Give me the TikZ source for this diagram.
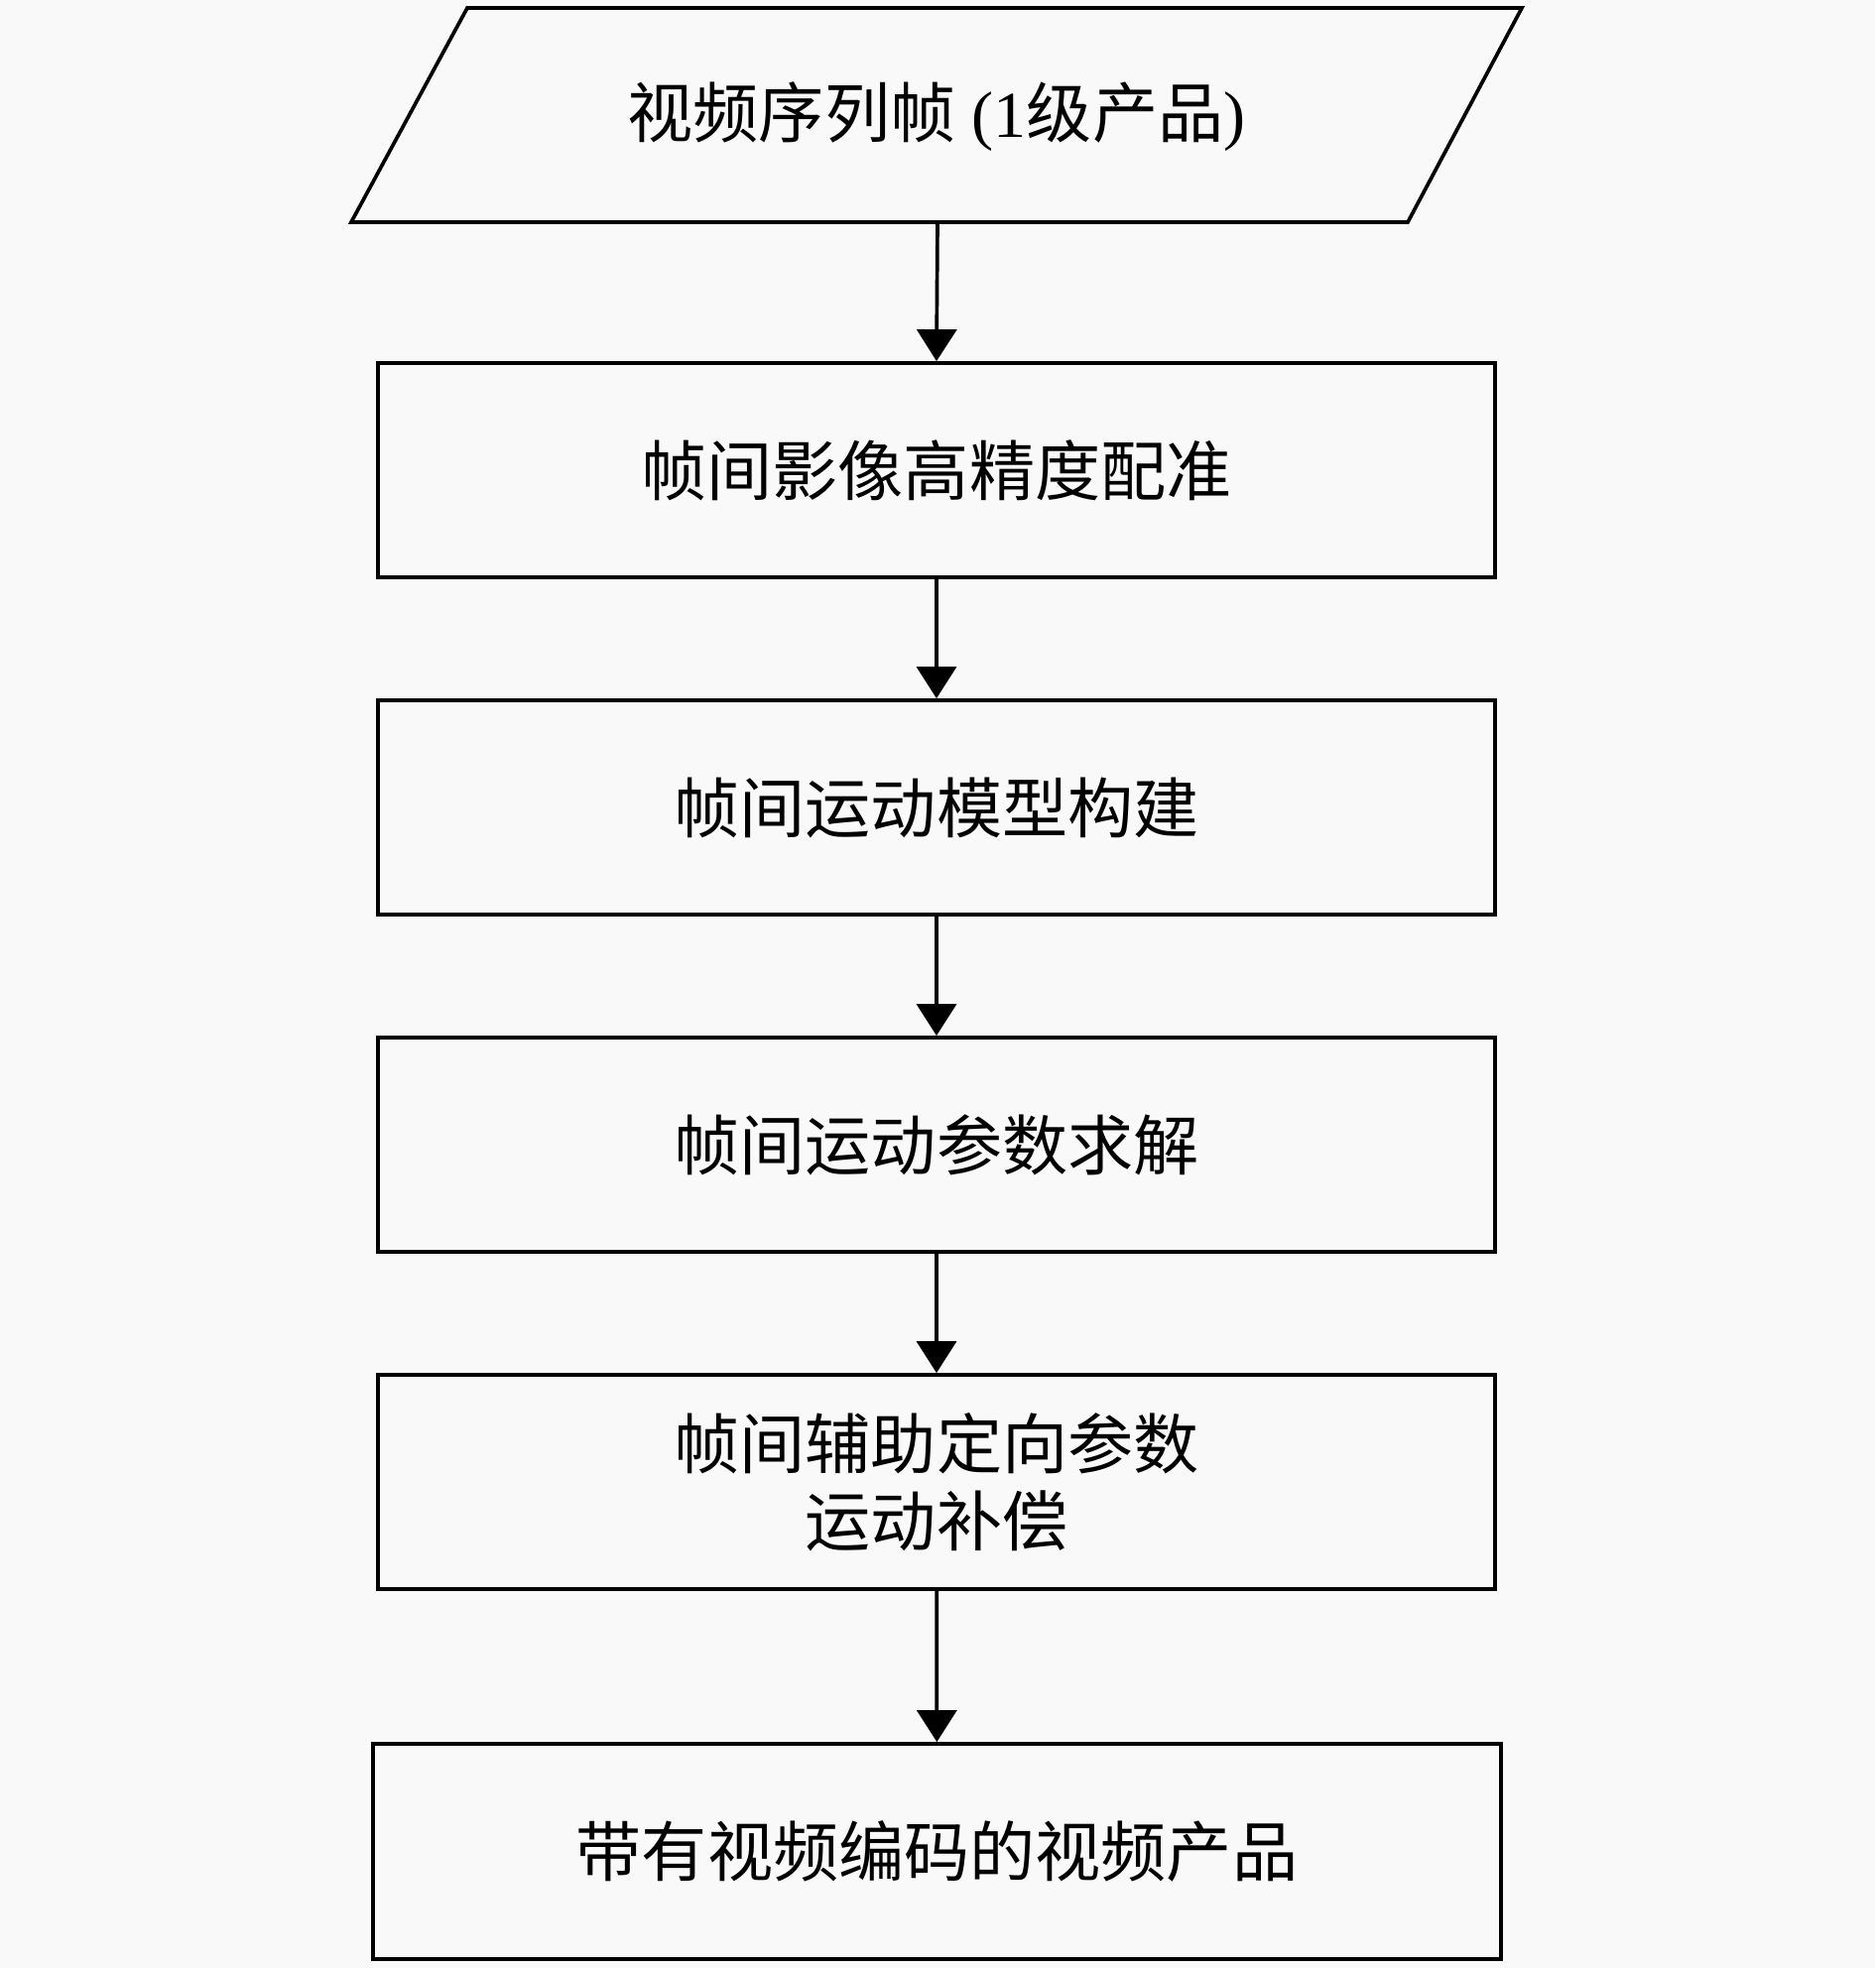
\documentclass[tikz,border=0pt]{standalone}
\usepackage{fontspec}
\setmainfont{Noto Sans CJK SC}
\newfontfamily\latinserif{Liberation Serif}
\usetikzlibrary{arrows.meta}
\definecolor{bgcol}{RGB}{249,249,249}
\tikzset{
  procbox/.style={draw=black, line width=1.05pt, fill=bgcol, minimum width=11.26cm, minimum height=2.16cm, inner sep=0pt, align=center, font=\fontsize{18.8}{22.2}\selectfont},
  flowarrow/.style={draw=black, line width=1.05pt, -{Triangle[width=0.4cm,length=0.32cm]}},
  txt/.style={inner sep=0pt, font=\fontsize{18.8}{22.2}\selectfont}
}
\begin{document}
\begin{tikzpicture}[x=0.01cm,y=-0.01cm]
\fill[bgcol] (0,0) rectangle (1890,1984);
\useasboundingbox (0,0) rectangle (1890,1984);
% parallelogram
\coordinate (ptl) at (471,8);
\coordinate (ptr) at (1534,8);
\coordinate (pbr) at (1419,224);
\coordinate (pbl) at (354,224);
\draw[line width=1.05pt, fill=bgcol] (ptl) -- (ptr) -- (pbr) -- (pbl) -- cycle;
\node[txt] (input) at (944,118) {视频序列帧{\latinserif\ (1}级产品{\latinserif)}};
\coordinate (pbot) at (945,224);
\node[procbox] (b1) at (944,474) {帧间影像高精度配准};
\node[procbox] (b2) at (944,814) {帧间运动模型构建};
\node[procbox] (b3) at (944,1154) {帧间运动参数求解};
\node[procbox] (b4) at (944,1494) {帧间辅助定向参数\\运动补偿};
\node[procbox, minimum width=11.37cm, minimum height=2.17cm] (b5) at (944.5,1866.5) {带有视频编码的视频产品};
\draw[flowarrow] (pbot) -- (b1.north);
\draw[flowarrow] (b1) -- (b2);
\draw[flowarrow] (b2) -- (b3);
\draw[flowarrow] (b3) -- (b4);
\draw[flowarrow] (b4) -- (b5);
\end{tikzpicture}
\end{document}
